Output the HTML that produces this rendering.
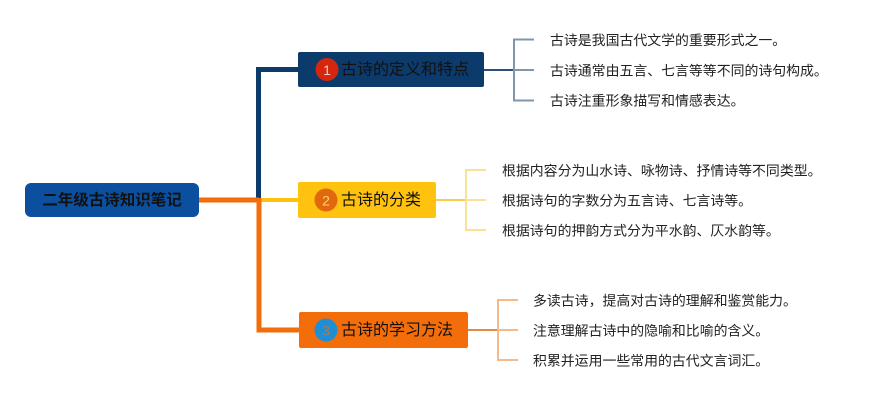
<!DOCTYPE html>
<html><head><meta charset="utf-8"><style>
html,body{margin:0;padding:0;background:#fff;}
svg{display:block;}
text{font-family:"Liberation Sans","Noto Sans CJK SC",sans-serif;}
</style></head><body>
<svg width="889" height="400" viewBox="0 0 889 400" xmlns="http://www.w3.org/2000/svg">
<rect width="889" height="400" fill="#fff"/>
<!-- main branches -->
<path d="M258.5 200 V69.5 H300" fill="none" stroke="#0b3a6b" stroke-width="5"/>
<path d="M258 200 H300" fill="none" stroke="#ffc20e" stroke-width="4"/>
<path d="M197 200 H259" fill="none" stroke="#f36d0a" stroke-width="5"/>
<path d="M259 198 V330 H300" fill="none" stroke="#f36d0a" stroke-width="5"/>

<!-- root -->
<rect x="25" y="183" width="174" height="34" rx="6" fill="#0b4f9e"/>
<text x="112" y="200.5" text-anchor="middle" dominant-baseline="central" font-size="15.5" font-weight="bold" fill="#111">二年级古诗知识笔记</text>

<!-- node 1 -->
<rect x="298" y="52" width="186" height="35" rx="2" fill="#0b3a6b"/>
<circle cx="327" cy="69.5" r="11.5" fill="#d4270d"/>
<text x="327" y="70" text-anchor="middle" dominant-baseline="central" font-size="14" fill="#f5c9c0">1</text>
<text x="341" y="70" dominant-baseline="central" font-size="16" fill="#111">古诗的定义和特点</text>

<!-- node 2 -->
<rect x="298" y="182" width="138" height="36" rx="2" fill="#ffc20e"/>
<circle cx="326" cy="200" r="11.5" fill="#e2680f"/>
<text x="326" y="200.5" text-anchor="middle" dominant-baseline="central" font-size="14" fill="#fbd46a">2</text>
<text x="341" y="200.5" dominant-baseline="central" font-size="16" fill="#111">古诗的分类</text>

<!-- node 3 -->
<rect x="299" y="312" width="169" height="36" rx="2" fill="#f36d0a"/>
<circle cx="326" cy="330" r="11.5" fill="#1e8fd5"/>
<text x="326" y="330.5" text-anchor="middle" dominant-baseline="central" font-size="14" fill="#b07a50">3</text>
<text x="341" y="330.5" dominant-baseline="central" font-size="16" fill="#111">古诗的学习方法</text>

<!-- node1 children -->
<path d="M484 70 H514" stroke="#2e4f74" stroke-width="2" fill="none"/>
<path d="M534 39.5 H514 V100.5 H534 M514 70 H534" stroke="#8196ab" stroke-width="2" fill="none"/>
<text x="550" y="40" dominant-baseline="central" font-size="13.9" fill="#222">古诗是我国古代文学的重要形式之一。</text>
<text x="550" y="70.5" dominant-baseline="central" font-size="13.9" fill="#222">古诗通常由五言、七言等等不同的诗句构成。</text>
<text x="550" y="100.5" dominant-baseline="central" font-size="13.9" fill="#222">古诗注重形象描写和情感表达。</text>

<!-- node2 children -->
<path d="M436 200 H466" stroke="#f6cc4a" stroke-width="2" fill="none"/>
<path d="M486 170 H466 V230 H486 M466 200 H486" stroke="#fbe194" stroke-width="2" fill="none"/>
<text x="502" y="170.5" dominant-baseline="central" font-size="13.9" fill="#222">根据内容分为山水诗、咏物诗、抒情诗等不同类型。</text>
<text x="502" y="200.5" dominant-baseline="central" font-size="13.9" fill="#222">根据诗句的字数分为五言诗、七言诗等。</text>
<text x="502" y="230.5" dominant-baseline="central" font-size="13.9" fill="#222">根据诗句的押韵方式分为平水韵、仄水韵等。</text>

<!-- node3 children -->
<path d="M468 330 H498" stroke="#e58a3f" stroke-width="2" fill="none"/>
<path d="M518 300 H498 V360 H518 M498 330 H518" stroke="#f5b98a" stroke-width="2" fill="none"/>
<text x="533" y="300.5" dominant-baseline="central" font-size="13.9" fill="#222">多读古诗，提高对古诗的理解和鉴赏能力。</text>
<text x="533" y="330.5" dominant-baseline="central" font-size="13.9" fill="#222">注意理解古诗中的隐喻和比喻的含义。</text>
<text x="533" y="360.5" dominant-baseline="central" font-size="13.9" fill="#222">积累并运用一些常用的古代文言词汇。</text>
</svg>
</body></html>
